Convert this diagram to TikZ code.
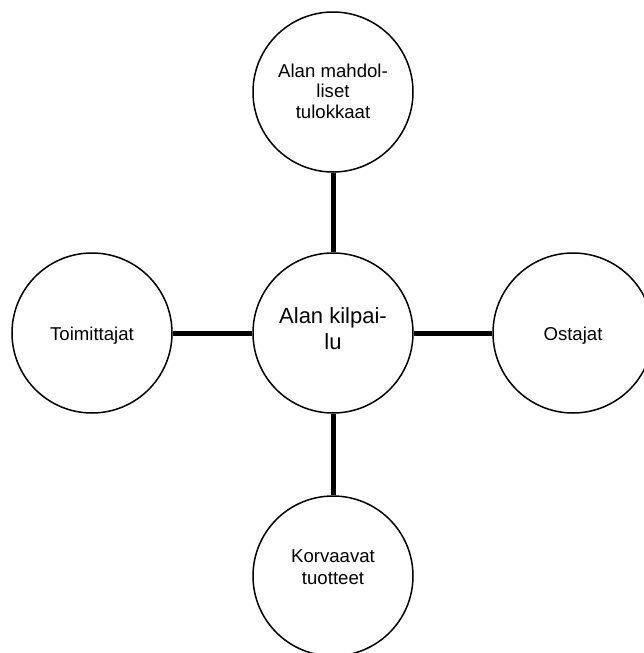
\documentclass[tikz,border=0pt]{standalone}
\usepackage{fontspec}
\setmainfont{Liberation Sans}
\begin{document}
\begin{tikzpicture}[x=1pt,y=-1pt,
  bubble/.style={draw=black,line width=1.5pt,circle,minimum size=160pt,inner sep=0pt,fill=white},
  txt/.style={align=center,inner sep=0pt,font=\fontsize{18.6}{20.5}\selectfont},
  bigtext/.style={font=\fontsize{22}{26}\selectfont},
  link/.style={draw=black,line width=5pt}]
\useasboundingbox (0,0) rectangle (644,653);
\clip (0,0) rectangle (644,653);
\node[bubble] (top) at (333,92) {};
\node[bubble] (mid) at (333,333) {};
\node[bubble] (left) at (92,333) {};
\node[bubble] (right) at (573,333) {};
\node[bubble] (bot) at (333,576) {};
\node[txt] (toptxt) at ([yshift=1pt]top.center) {Alan mahdol-\\liset\\tulokkaat};
\node[txt,bigtext] (midtxt) at ([yshift=4pt]mid.center) {Alan kilpai-\\lu};
\node[txt] (lefttxt) at ([yshift=-3pt]left.center) {Toimittajat};
\node[txt] (righttxt) at ([yshift=-3pt]right.center) {Ostajat};
\node[txt,font=\fontsize{18.6}{22.5}\selectfont] (bottxt) at ([yshift=9pt]bot.center) {Korvaavat\\tuotteet};
\draw[link] (mid) -- (top);
\draw[link] (mid) -- (left);
\draw[link] (mid) -- (right);
\draw[link] (mid) -- (bot);
\end{tikzpicture}
\end{document}
